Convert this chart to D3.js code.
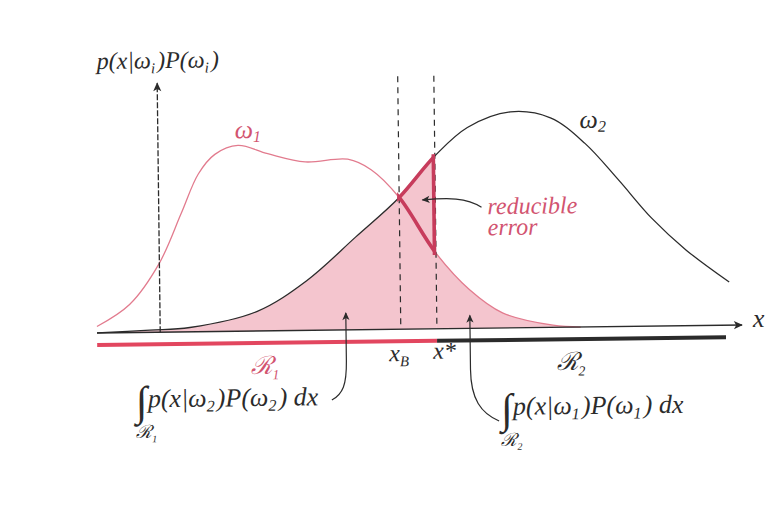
<!DOCTYPE html>
<html>
<head>
<meta charset="utf-8">
<script src="https://cdn.jsdelivr.net/npm/d3@7"></script>
<style>
  html, body { margin: 0; padding: 0; background: #fff; }
  svg { display: block; }
</style>
</head>
<body>
<svg id="chart" width="784" height="509"></svg>
<script>
// Class-conditional densities times priors, sampled along x
const w1X = [0.00, 0.51, 0.98, 1.33, 1.60, 1.86, 2.22, 2.68, 3.26, 3.92, 4.28, 4.71, 5.27, 5.78, 6.29, 7.07, 7.50];
const w1Y = [0.03, 0.13, 0.32, 0.55, 0.73, 0.82, 0.86, 0.82, 0.78, 0.79, 0.74, 0.61, 0.35, 0.18, 0.07, 0.01, 0.00];
const w2X = [0.00, 0.82, 1.44, 2.48, 3.26, 4.03, 4.71, 5.27, 5.78, 6.45, 7.07, 7.60, 8.11, 8.62, 9.15, 9.81];
const w2Y = [0.00, 0.01, 0.02, 0.09, 0.23, 0.43, 0.61, 0.80, 0.93, 1.00, 0.97, 0.85, 0.68, 0.50, 0.35, 0.20];

// Bayes boundary and the chosen (non-optimal) boundary
const xBayes = 4.71;
const xStar = 5.27;
const xDomain = [0, 10];
const yAxisAt = 0.98;

const SERIF = '"Liberation Serif", "Tinos", "Times New Roman", serif';

const pink = "#e27b8e";
const fillPink = "#f4c5ce";
const deepRed = "#c73c5c";
const barRed = "#e2465f";
const labelPink = "#d25470";
const ink = "#2b2b2b";

const svg = d3.select("#chart");
const x = d3.scaleLinear().domain(xDomain).range([97, 742]);
const y = d3.scaleLinear().domain([0, 1]).range([329, 113]);
const base = y(0);

const w1 = w1X.map((v, i) => [v, w1Y[i]]);
const w2 = w2X.map((v, i) => [v, w2Y[i]]);

const defs = svg.append("defs");
function marker(id, w, h) {
  defs.append("marker")
    .attr("id", id).attr("viewBox", "0 0 10 10")
    .attr("refX", 9).attr("refY", 5)
    .attr("markerWidth", w).attr("markerHeight", h)
    .attr("markerUnits", "userSpaceOnUse")
    .attr("orient", "auto")
    .append("path").attr("d", "M0,0.5 L10,5 L0,9.5 L2.5,5 Z").attr("fill", ink);
}
marker("arrow", 14, 9);
marker("arrowSmall", 11, 8);

function clipX(id, x0, x1) {
  defs.append("clipPath").attr("id", id)
    .append("rect")
    .attr("x", x0).attr("y", 0)
    .attr("width", x1 - x0).attr("height", base);
}
clipX("leftOfStar", x(xDomain[0]), x(xStar));
clipX("rightOfStar", x(xStar), x(xDomain[1]));
clipX("between", x(xBayes) - 2, x(xStar));

// the whole figure sits slightly tilted
const g = svg.append("g").attr("transform", `rotate(-0.7, ${x(5)}, ${base})`);

const curve = d3.curveCatmullRom.alpha(0.5);
const line = d3.line().x(d => x(d[0])).y(d => y(d[1])).curve(curve);
const area = d3.area().x(d => x(d[0])).y0(base).y1(d => y(d[1])).curve(curve);

// shaded error regions
g.append("path").attr("d", area(w2)).attr("fill", fillPink).attr("clip-path", "url(#leftOfStar)");
g.append("path").attr("d", area(w1)).attr("fill", fillPink).attr("clip-path", "url(#rightOfStar)");

// density curves
g.append("path").attr("d", line(w1)).attr("fill", "none").attr("stroke", pink).attr("stroke-width", 1.3);
g.append("path").attr("d", line(w2)).attr("fill", "none").attr("stroke", ink).attr("stroke-width", 1.3);

// dashed boundaries
[xBayes, xStar].forEach(v => {
  g.append("line")
    .attr("x1", x(v)).attr("x2", x(v))
    .attr("y1", 76).attr("y2", base)
    .attr("stroke", ink).attr("stroke-width", 1.2)
    .attr("stroke-dasharray", "6,5");
});

// reducible-error triangle
const w1AtStar = w1Y[w1X.indexOf(xStar)];
const w2AtStar = w2Y[w2X.indexOf(xStar)];
g.append("path").attr("d", line(w2)).attr("fill", "none").attr("stroke", deepRed)
  .attr("stroke-width", 3.6).attr("clip-path", "url(#between)");
g.append("path").attr("d", line(w1)).attr("fill", "none").attr("stroke", deepRed)
  .attr("stroke-width", 3.6).attr("clip-path", "url(#between)");
g.append("line")
  .attr("x1", x(xStar) - 1.5).attr("x2", x(xStar) - 1.5)
  .attr("y1", y(w2AtStar)).attr("y2", y(w1AtStar))
  .attr("stroke", deepRed).attr("stroke-width", 3.6).attr("stroke-linecap", "square");

// x axis and vertical axis
g.append("line")
  .attr("x1", x(xDomain[0])).attr("x2", x(xDomain[1]))
  .attr("y1", base).attr("y2", base)
  .attr("stroke", ink).attr("stroke-width", 1.4)
  .attr("marker-end", "url(#arrow)");
g.append("line")
  .attr("x1", x(yAxisAt)).attr("x2", x(yAxisAt))
  .attr("y1", base).attr("y2", 80)
  .attr("stroke", ink).attr("stroke-width", 1.3)
  .attr("stroke-dasharray", "6,2")
  .attr("marker-end", "url(#arrow)");

// decision regions
g.append("line")
  .attr("x1", x(xDomain[0])).attr("x2", x(xStar))
  .attr("y1", base + 12).attr("y2", base + 12)
  .attr("stroke", barRed).attr("stroke-width", 4);
g.append("line")
  .attr("x1", x(xStar)).attr("x2", x(9.75))
  .attr("y1", base + 12).attr("y2", base + 12)
  .attr("stroke", ink).attr("stroke-width", 4);

// text helpers: strings are plain runs, objects are subscripts
function label(px, py, size, color, upright) {
  return g.append("text").attr("x", px).attr("y", py)
    .style("font-family", SERIF)
    .style("font-size", size + "px")
    .style("font-style", upright ? "normal" : "italic")
    .attr("fill", color);
}
function mathText(px, py, parts, size, color) {
  const t = label(px, py, size, color);
  parts.forEach(p => {
    if (typeof p === "string") {
      t.append("tspan").text(p);
    } else {
      t.append("tspan").attr("dy", p.dy).style("font-size", (size * 0.62) + "px").text(p.t);
      t.append("tspan").attr("dy", -p.dy).text("\u200A");
    }
  });
  return t;
}
function scriptR(px, py, size, sub, color) {
  const t = label(px, py, size, color);
  t.append("tspan").text("ℛ");
  t.append("tspan").attr("dy", size * 0.22).style("font-size", (size * 0.55) + "px").text(sub);
}

mathText(100, 65, ["p(x|ω", { t: "i", dy: 5 }, ")P(ω", { t: "i", dy: 5 }, ")"], 24, ink);
mathText(237, 136, ["ω", { t: "1", dy: 4 }], 26, labelPink);
mathText(582, 130, ["ω", { t: "2", dy: 4 }], 26, ink);
mathText(753, 331, ["x"], 26, ink);

label(489, 215, 24, labelPink).text("reducible");
label(489, 236, 24, labelPink).text("error");

mathText(x(xBayes) - 12, 361, ["x", { t: "B", dy: 5 }], 24, ink);
mathText(x(xStar) - 4, 359, ["x*"], 24, ink);

scriptR(250, 372, 25, "1", labelPink);
scriptR(556, 372, 25, "2", ink);

// integral labels
function integral(px, py, k, region) {
  label(px - 3, py + 8, 42, ink, true).text("∫");
  mathText(px + 9, py, ["p(x|ω", { t: String(k), dy: 5 }, ")P(ω", { t: String(k), dy: 5 }, ") dx"], 26, ink);
  scriptR(px - 3, py + 31, 18, region, ink);
}
integral(138, 404, 2, "1");
integral(503, 416, 1, "2");

// pointer arrows
const ptr = (d, m) => g.append("path").attr("d", d).attr("fill", "none")
  .attr("stroke", ink).attr("stroke-width", 1.2).attr("marker-end", m);
ptr("M331,399 C342,393 346,384 346,360 L346,312", "url(#arrowSmall)");
ptr("M498,422 C480,414 470,400 470,370 L470,316", "url(#arrowSmall)");
ptr("M483,208 C468,198 450,198 424,200", "url(#arrowSmall)");
</script>
</body>
</html>
